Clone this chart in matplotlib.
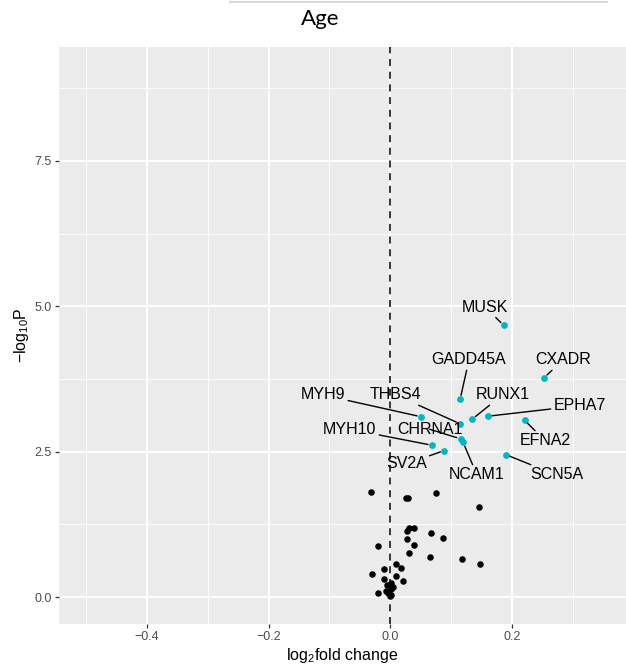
import matplotlib.pyplot as plt
from matplotlib.lines import Line2D
from matplotlib.ticker import MultipleLocator

plt.rcParams['font.family'] = ['Liberation Sans', 'DejaVu Sans']
plt.rcParams['mathtext.fontset'] = 'custom'
plt.rcParams['mathtext.rm'] = 'Liberation Sans'
plt.rcParams['mathtext.default'] = 'regular'

# significant genes (labelled)
genes = ['MUSK', 'CXADR', 'GADD45A', 'RUNX1', 'EPHA7', 'EFNA2', 'MYH9',
         'THBS4', 'CHRNA1', 'NCAM1', 'MYH10', 'SV2A', 'SCN5A']
sig_lfc = [0.187, 0.253, 0.115, 0.135, 0.161, 0.221, 0.051,
           0.115, 0.116, 0.120, 0.069, 0.089, 0.190]
sig_logp = [4.67, 3.77, 3.40, 3.06, 3.11, 3.04, 3.10,
            2.98, 2.72, 2.66, 2.61, 2.52, 2.45]

# the rest
ns_lfc = [-0.0316, 0.0263, 0.0296, 0.076, 0.1456, 0.0309, 0.0387, 0.0276,
          0.0671, 0.0868, 0.0271, -0.020, 0.0387, 0.0309, 0.0655, 0.1181,
          0.1477, 0.0102, -0.0102, 0.0184, -0.0304, -0.0102, 0.0095, 0.0211,
          0.002, -0.006, 0.0046, 0.001, -0.020, -0.0036, 0.002, -0.001, -0.0074]
ns_logp = [1.806, 1.698, 1.698, 1.794, 1.543, 1.192, 1.182, 1.135,
           1.101, 1.015, 1.003, 0.877, 0.889, 0.762, 0.683, 0.654,
           0.563, 0.573, 0.477, 0.499, 0.396, 0.315, 0.361, 0.275,
           0.246, 0.206, 0.177, 0.132, 0.074, 0.074, 0.034, 0.017, 0.108]

# where each gene name sits (repelled label placement)
label_pos = {
    'MUSK': (0.1566, 4.984), 'GADD45A': (0.1296, 4.077), 'CXADR': (0.2842, 4.077),
    'MYH9': (-0.1105, 3.475), 'THBS4': (0.009, 3.475), 'RUNX1': (0.1845, 3.475),
    'EPHA7': (0.3117, 3.291), 'CHRNA1': (0.065, 2.885), 'MYH10': (-0.0666, 2.885),
    'EFNA2': (0.2553, 2.684), 'SV2A': (0.0266, 2.288), 'NCAM1': (0.1428, 2.099),
    'SCN5A': (0.2734, 2.099),
}

fig = plt.figure(figsize=(6.26, 6.65), dpi=100)
ax = fig.add_axes([59 / 626, 41 / 665, 1 - 59 / 626, 577 / 665])
ax.set_facecolor('#EBEBEB')
for s in ax.spines.values():
    s.set_visible(False)

ax.set_xlim(-0.545, 0.388)
ax.set_ylim(-0.464, 9.46)
ax.xaxis.set_major_locator(MultipleLocator(0.2))
ax.xaxis.set_minor_locator(MultipleLocator(0.1))
ax.yaxis.set_major_locator(MultipleLocator(2.5))
ax.yaxis.set_minor_locator(MultipleLocator(1.25))
ax.grid(which='major', color='white', linewidth=1.3)
ax.grid(which='minor', color='white', linewidth=0.6)
ax.set_axisbelow(True)
ax.tick_params(which='major', length=3, width=0.9, color='#333333',
               labelsize=9, labelcolor='#4D4D4D', pad=2)
ax.tick_params(which='minor', length=0)
ax.xaxis.set_major_formatter(plt.FuncFormatter(lambda v, p: ('%.1f' % v).replace('-', '\u2212')))
ax.yaxis.set_major_formatter(plt.FuncFormatter(lambda v, p: '%.1f' % v))

ax.axvline(0, color='black', linewidth=1.1, dashes=(4.6, 3.7), zorder=2)

ax.scatter(ns_lfc, ns_logp, s=22, color='black', linewidths=0, zorder=3)
ax.scatter(sig_lfc, sig_logp, s=24, color='#00B8C2', linewidths=0, zorder=3)

for g, x, y in zip(genes, sig_lfc, sig_logp):
    tx, ty = label_pos[g]
    ax.annotate(g, xy=(x, y), xytext=(tx, ty), ha='center', va='center',
                fontsize=11.5, color='black', zorder=4,
                arrowprops=dict(arrowstyle='-', color='black', lw=1.0,
                                shrinkA=0, shrinkB=3))

ax.set_xlabel('log$_{2}$fold change', fontsize=11.5, labelpad=2)
ax.set_ylabel('\u2212log$_{10}$P', fontsize=11.5, labelpad=3)

fig.text(320 / 626, 1 - 19 / 665, 'Age', fontsize=16, family=['Lato', 'DejaVu Sans'],
         ha='center', va='center')
fig.add_artist(Line2D([230 / 626, 607 / 626], [1 - 1.5 / 665, 1 - 1.5 / 665],
                      color='#D9D9D9', linewidth=1.5))

fig.savefig('out.png', dpi=100)
